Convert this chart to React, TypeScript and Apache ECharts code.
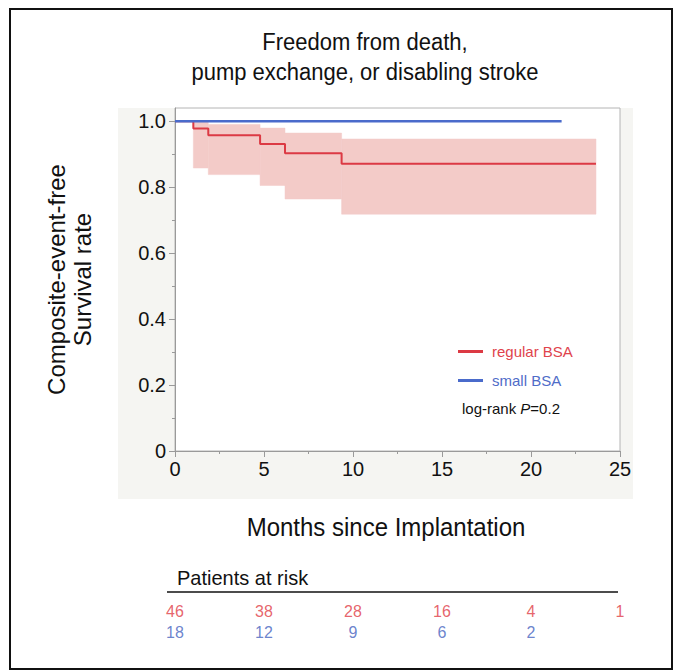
import React, { useEffect, useRef } from "react";
import * as echarts from "echarts";

// ---- data ----
const regularTimes = [0, 1.03, 1.87, 4.78, 6.18, 9.36, 23.65];
const regularSurvival = [1, 0.978, 0.957, 0.931, 0.903, 0.871, 0.871];
const smallTimes = [0, 21.72];
const smallSurvival = [1, 1];

const bandStart = [1.03, 1.87, 4.78, 6.18, 9.36];
const bandEnd = [1.87, 4.78, 6.18, 9.36, 23.65];
const bandLower = [0.858, 0.838, 0.805, 0.764, 0.718];
const bandUpper = [1.0, 0.99, 0.979, 0.964, 0.946];

const riskTimes = [0, 5, 10, 15, 20, 25];
const riskRegular = [46, 38, 28, 16, 4, 1];
const riskSmall = [18, 12, 9, 6, 2];

const yTicks = [0, 0.2, 0.4, 0.6, 0.8, 1.0];
const yMinorTicks = [0.1, 0.3, 0.5, 0.7, 0.9];

const RED = "#dc3a44";
const BLUE = "#4a6bcb";
const BAND = "#f3cbc8";
const FONT = "Liberation Sans, Arial, Helvetica, sans-serif";

export default function App() {
  const ref = useRef<HTMLDivElement>(null);
  useEffect(() => {
    if (!ref.current) return;
    const chart = echarts.init(ref.current, undefined, { renderer: "svg" });
    const option: any = {
      animation: false,
      textStyle: { fontFamily: FONT },
      grid: [
        {
          left: 175,
          top: 108,
          width: 445,
          height: 343,
          show: true,
          backgroundColor: "#ffffff",
          borderColor: "#b4b4b4",
          borderWidth: 1,
        },
        { left: 175, top: 601, width: 445, height: 42, show: false },
      ],
      xAxis: [
        {
          gridIndex: 0,
          type: "value",
          min: 0,
          max: 25,
          interval: 5,
          axisLine: { show: true, lineStyle: { color: "#9a9a9a", width: 1 } },
          axisTick: { show: true, length: 6, lineStyle: { color: "#9a9a9a" } },
          minorTick: { show: true, splitNumber: 2, length: 3, lineStyle: { color: "#9a9a9a" } },
          splitLine: { show: false },
          axisLabel: { fontSize: 20, color: "#111", margin: 8, fontFamily: FONT },
        },
        {
          gridIndex: 1,
          type: "value",
          min: 0,
          max: 25,
          show: false,
        },
      ],
      yAxis: [
        {
          gridIndex: 0,
          type: "value",
          min: 0,
          max: 1.04,
          axisLine: { show: true, lineStyle: { color: "#9a9a9a", width: 1 } },
          axisTick: { show: true, length: 6, customValues: yTicks, lineStyle: { color: "#9a9a9a" } },
          splitLine: { show: false },
          axisLabel: {
            customValues: yTicks,
            fontSize: 20,
            color: "#111",
            margin: 9,
            fontFamily: FONT,
            formatter: (v: number) => (v === 0 ? "0" : v.toFixed(1)),
          },
          name: "Composite-event-free\nSurvival rate",
          nameLocation: "middle",
          nameRotate: 90,
          nameGap: 80,
          nameTextStyle: { fontSize: 24, lineHeight: 26, color: "#111", fontFamily: FONT },
        },
        {
          gridIndex: 0,
          type: "value",
          min: 0,
          max: 1.04,
          position: "left",
          axisLine: { show: false },
          axisTick: { show: true, length: 3, customValues: yMinorTicks, lineStyle: { color: "#9a9a9a" } },
          axisLabel: { show: false },
          splitLine: { show: false },
        },
        { gridIndex: 1, type: "value", min: 0, max: 2, show: false },
      ],
      legend: {
        orient: "vertical",
        left: 458,
        top: 343,
        padding: 0,
        icon: "rect",
        itemWidth: 25,
        itemHeight: 3,
        itemGap: 12,
        textStyle: { fontSize: 15, lineHeight: 17, padding: [0, 0, 0, 4], fontFamily: FONT },
        data: [
          { name: "regular BSA", textStyle: { color: "#e0434c" } },
          { name: "small BSA", textStyle: { color: "#4f6cc8" } },
        ],
      },
      series: [
        {
          type: "custom",
          name: "band",
          xAxisIndex: 0,
          yAxisIndex: 0,
          encode: { x: [0, 1], y: [2, 3] },
          data: bandStart.map((s, i) => [s, bandEnd[i], bandLower[i], bandUpper[i]]),
          renderItem: (params: any, api: any) => {
            const p0 = api.coord([api.value(0), api.value(3)]);
            const p1 = api.coord([api.value(1), api.value(2)]);
            return {
              type: "rect",
              shape: { x: p0[0], y: p0[1], width: p1[0] - p0[0], height: p1[1] - p0[1] },
              style: { fill: BAND, stroke: BAND, lineWidth: 0.5 },
            };
          },
          z: 1,
        },
        {
          type: "line",
          name: "regular BSA",
          xAxisIndex: 0,
          yAxisIndex: 0,
          step: "end",
          symbol: "none",
          data: regularTimes.map((t, i) => [t, regularSurvival[i]]),
          lineStyle: { color: RED, width: 2 },
          itemStyle: { color: RED },
          z: 3,
        },
        {
          type: "line",
          name: "small BSA",
          xAxisIndex: 0,
          yAxisIndex: 0,
          symbol: "none",
          data: smallTimes.map((t, i) => [t, smallSurvival[i]]),
          lineStyle: { color: BLUE, width: 2.5 },
          itemStyle: { color: BLUE },
          z: 4,
        },
        {
          type: "scatter",
          name: "risk-regular",
          xAxisIndex: 1,
          yAxisIndex: 2,
          symbolSize: 1,
          itemStyle: { color: "rgba(0,0,0,0)" },
          data: riskRegular.map((n, i) => [riskTimes[i], 1.5, n]),
          label: {
            show: true,
            position: "inside",
            formatter: (p: any) => String(p.value[2]),
            color: "#e03c46",
            fontSize: 16,
            fontFamily: FONT,
          },
        },
        {
          type: "scatter",
          name: "risk-small",
          xAxisIndex: 1,
          yAxisIndex: 2,
          symbolSize: 1,
          itemStyle: { color: "rgba(0,0,0,0)" },
          data: riskSmall.map((n, i) => [riskTimes[i], 0.5, n]),
          label: {
            show: true,
            position: "inside",
            formatter: (p: any) => String(p.value[2]),
            color: "#4563c0",
            fontSize: 16,
            fontFamily: FONT,
          },
        },
      ],
      graphic: [
        {
          type: "rect",
          z: -10,
          shape: { x: 118, y: 108, width: 515, height: 391 },
          style: { fill: "#f5f5f2" },
          silent: true,
        },
        {
          type: "rect",
          z: 100,
          shape: { x: 10, y: 9, width: 662, height: 660 },
          style: { fill: "none", stroke: "#111", lineWidth: 2 },
          silent: true,
        },
        {
          type: "text",
          x: 365,
          y: 42,
          scaleY: 1.1,
          style: {
            text: "Freedom from death,",
            textAlign: "center",
            textVerticalAlign: "middle",
            fontSize: 22,
            fontFamily: FONT,
            fill: "#111",
          },
        },
        {
          type: "text",
          x: 365,
          y: 72,
          scaleY: 1.1,
          style: {
            text: "pump exchange, or disabling stroke",
            textAlign: "center",
            textVerticalAlign: "middle",
            fontSize: 22,
            fontFamily: FONT,
            fill: "#111",
          },
        },
        {
          type: "text",
          x: 386,
          y: 527,
          scaleY: 1.05,
          style: {
            text: "Months since Implantation",
            textAlign: "center",
            textVerticalAlign: "middle",
            fontSize: 24,
            fontFamily: FONT,
            fill: "#111",
          },
        },
        {
          type: "text",
          x: 462,
          y: 408,
          z: 10,
          style: {
            text: "{n|log-rank }{i|P}{n|=0.2}",
            textVerticalAlign: "middle",
            rich: {
              n: { fontSize: 15, fontFamily: FONT, fill: "#111" },
              i: { fontSize: 15, fontFamily: FONT, fill: "#111", fontStyle: "italic" },
            },
          },
        },
        {
          type: "text",
          x: 177,
          y: 577,
          scaleY: 1.05,
          style: {
            text: "Patients at risk",
            textVerticalAlign: "middle",
            fontSize: 20,
            fontFamily: FONT,
            fill: "#111",
          },
        },
        {
          type: "line",
          shape: { x1: 167, y1: 592, x2: 618, y2: 592 },
          style: { stroke: "#111", lineWidth: 1.5 },
        },
      ],
    };
    chart.setOption(option);
    return () => chart.dispose();
  }, []);
  return (
    <div
      ref={ref}
      style={{ position: "absolute", left: 0, top: 0, width: 682, height: 672 }}
    />
  );
}
